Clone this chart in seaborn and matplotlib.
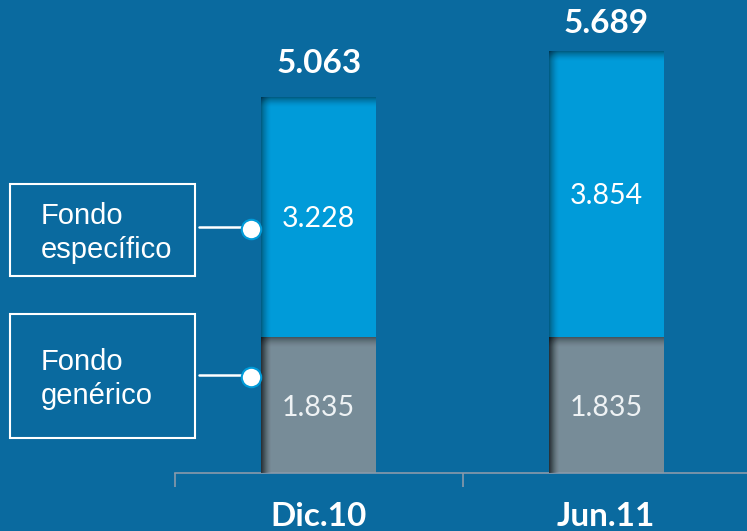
import pandas as pd
import seaborn as sns
import matplotlib.pyplot as plt
from matplotlib.patches import Rectangle

periods = ['Dic.10', 'Jun.11']
generico = [1835, 1835]
especifico = [3228, 3854]
totales = ['5.063', '5.689']
lbl_gen = ['1.835', '1.835']
lbl_esp = ['3.228', '3.854']

bg = '#0A6A9F'
c_esp = '#009BD9'
c_gen = '#778C98'

df = pd.DataFrame({'periodo': periods, 'generico': generico, 'especifico': especifico})
df['total'] = df['generico'] + df['especifico']

sns.set_style('white')
plt.rcParams['font.family'] = ['Lato', 'DejaVu Sans']

fig = plt.figure(figsize=(7.47, 5.31), dpi=100, facecolor=bg)
ax = fig.add_axes([175 / 747, 58 / 531, 575 / 747, 473 / 531])
ax.set_facecolor(bg)

sns.barplot(data=df, x='periodo', y='total', color=c_esp, width=0.4, saturation=1, ax=ax)
sns.barplot(data=df, x='periodo', y='generico', color=c_gen, width=0.4, saturation=1, ax=ax)

ax.set_xlim(-0.5, 1.49)
ax.set_ylim(0, 6374)

# fake inner shadow on the left / top edges of each segment
px_x = 1.99 / 575
px_y = 6374 / 473
for p in list(ax.patches):
    x0, y0, w, h = p.get_x(), p.get_y(), p.get_width(), p.get_height()
    p.set_edgecolor('none')
    for i in range(10):
        a = 0.08 * (1 - i / 10)
        ax.add_patch(Rectangle((x0, y0), (i + 1) * px_x, h, color='black', alpha=a, lw=0, zorder=3))
        ax.add_patch(Rectangle((x0, y0 + h - (i + 1) * px_y), w, (i + 1) * px_y, color='black', alpha=a, lw=0, zorder=3))

gap_px = [34, 27]  # distance of total label above bar top
for i in range(len(periods)):
    ax.text(i, df['total'][i] + gap_px[i] * px_y, totales[i], ha='center', va='center', color='white',
            fontsize=24, fontweight='bold', zorder=5)
    ax.text(i, generico[i] + especifico[i] / 2 - 30, lbl_esp[i], ha='center', va='center', color='white',
            fontsize=20.5, zorder=5)
    ax.text(i, generico[i] / 2 - 40, lbl_gen[i], ha='center', va='center', color='#EEF2F4',
            fontsize=20.5, zorder=5)

for s in ['top', 'right', 'left']:
    ax.spines[s].set_visible(False)
ax.spines['bottom'].set_color('#8A9AAA')
ax.spines['bottom'].set_linewidth(1.2)
ax.set_yticks([])
ax.tick_params(axis='x', which='major', length=0, pad=21, labelsize=24, labelcolor='white')
for t in ax.get_xticklabels():
    t.set_fontweight('bold')
ax.set_xticks([-0.5, 0.5, 1.5], minor=True)
ax.tick_params(axis='x', which='minor', bottom=True, length=10, width=1.2, color='#8A9AAA', direction='out')
ax.set_xlabel('')
ax.set_ylabel('')

# callout boxes on the left
boxes = [
    ('Fondo\nespecífico', 184, 276, 227),
    ('Fondo\ngenérico', 314, 438, 375),
]
for txt, top, bot, ly in boxes:
    fig.patches.append(Rectangle((10 / 747, 1 - bot / 531), 185 / 747, (bot - top) / 531,
                                 transform=fig.transFigure, fill=False, ec='white', lw=1.5))
    fig.text(41 / 747, 1 - ((top + bot) / 2 + 3) / 531, txt, ha='left', va='center', color='white',
             fontsize=21, family=['Liberation Sans', 'DejaVu Sans'], linespacing=1.3)
    fig.lines.append(plt.Line2D([199 / 747, 246 / 747], [1 - ly / 531] * 2, transform=fig.transFigure,
                                color='white', lw=1.8))
    fig.lines.append(plt.Line2D([251 / 747], [1 - (ly + 2) / 531], transform=fig.transFigure,
                                marker='o', ms=14, mfc='white', mec=c_esp, mew=1.5))

fig.savefig('out.png', dpi=100, facecolor=bg)
